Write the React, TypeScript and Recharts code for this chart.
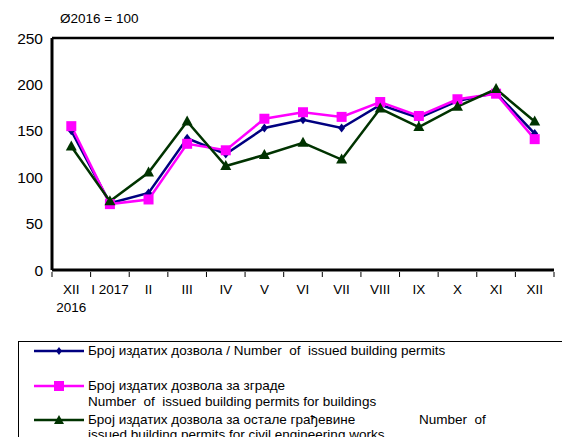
import { LineChart, Line, XAxis, YAxis, CartesianGrid, ReferenceLine } from "recharts";

// Month labels (XII 2016 .. XII 2017)
const months = ["XII\n2016", "I 2017", "II", "III", "IV", "V", "VI", "VII", "VIII", "IX", "X", "XI", "XII"];
// Ø2016 = 100 indices
const totalPermits = [150, 72, 83, 142, 125, 153, 162, 153, 178, 164, 182, 191, 147];
const buildingPermits = [155, 71, 76, 136, 129, 163, 170, 165, 181, 166, 184, 190, 141];
const civilPermits = [133, 74, 105, 160, 112, 124, 137, 119, 174, 154, 176, 195, 160];
const yTicks = [0, 50, 100, 150, 200, 250];

const data = months.map((m, i) => ({
  month: m,
  total: totalPermits[i],
  buildings: buildingPermits[i],
  civil: civilPermits[i],
}));

const BLUE = "#000080";
const PINK = "#ff00ff";
const GREEN = "#003300";
const FONT = "Arial, 'Liberation Sans', sans-serif";
const BAND = 502 / 13;

const Diamond = (p: any) => {
  const { cx, cy } = p;
  if (cx == null || cy == null) return null;
  return <path key={p.index} d={`M${cx},${cy - 4.5}L${cx + 3.5},${cy}L${cx},${cy + 4.5}L${cx - 3.5},${cy}Z`} fill={BLUE} />;
};
const Square = (p: any) => {
  const { cx, cy } = p;
  if (cx == null || cy == null) return null;
  return <rect key={p.index} x={cx - 5} y={cy - 5} width={10} height={10} fill={PINK} />;
};
const Triangle = (p: any) => {
  const { cx, cy } = p;
  if (cx == null || cy == null) return null;
  return <path key={p.index} d={`M${cx},${cy - 6}L${cx + 5.5},${cy + 4}L${cx - 5.5},${cy + 4}Z`} fill={GREEN} />;
};

const MonthTick = (p: any) => {
  const { x, y, payload, index } = p;
  const lines = String(payload.value).split("\n");
  const left = x - BAND / 2;
  return (
    <g>
      <line x1={left} y1={y} x2={left} y2={y + 5} stroke="#000" strokeWidth={1} />
      {index === months.length - 1 && (
        <line x1={x + BAND / 2} y1={y} x2={x + BAND / 2} y2={y + 5} stroke="#000" strokeWidth={1} />
      )}
      <text x={x} y={y + 22} textAnchor="middle" fontSize={13.5} fontFamily={FONT} fill="#000">
        {lines.map((l, i) => (
          <tspan key={i} x={x} dy={i === 0 ? 0 : 18}>{l}</tspan>
        ))}
      </text>
    </g>
  );
};

const Sample = ({ color, marker }: { color: string; marker: "d" | "s" | "t" }) => (
  <svg width={50} height={12} style={{ position: "absolute", left: 15, top: 2 }}>
    <line x1={0} y1={6} x2={50} y2={6} stroke={color} strokeWidth={2.5} />
    {marker === "d" && <path d="M25,2L28,6L25,10L22,6Z" fill={color} />}
    {marker === "s" && <rect x={20} y={1} width={10} height={10} fill={color} />}
    {marker === "t" && <path d="M25,1L30,10L20,10Z" fill={color} />}
  </svg>
);

export default function App() {
  return (
    <div style={{ position: "absolute", left: 0, top: 0, width: 562, height: 437, overflow: "hidden", background: "#fff", fontFamily: FONT }}>
      <div style={{ position: "absolute", left: 60, top: 11, fontSize: 13.5, color: "#000" }}>Ø2016 = 100</div>
      <LineChart width={562} height={437} data={data} margin={{ top: 38, right: 8, bottom: 107, left: 0 }}>
        <CartesianGrid horizontal vertical={false} stroke="#404040" strokeWidth={1} />
        <XAxis
          dataKey="month"
          interval={0}
          tick={<MonthTick />}
          tickLine={false}
          tickSize={0}
          padding={{ left: BAND / 2, right: BAND / 2 }}
          axisLine={{ stroke: "#000", strokeWidth: 3 }}
          height={60}
        />
        <YAxis
          yAxisId="left"
          domain={[0, 250]}
          ticks={yTicks}
          width={52}
          tickLine={false}
          tickMargin={3}
          axisLine={{ stroke: "#000", strokeWidth: 3 }}
          tick={{ fontSize: 15.5, fill: "#000", fontFamily: FONT }}
        />
        <YAxis
          yAxisId="right"
          orientation="right"
          domain={[0, 250]}
          width={0}
          tick={false}
          tickLine={false}
          axisLine={{ stroke: "#000", strokeWidth: 2.5 }}
        />
        <ReferenceLine yAxisId="left" y={250} stroke="#000" strokeWidth={2.5} />
        <Line yAxisId="left" type="linear" dataKey="total" stroke={BLUE} strokeWidth={2.5} dot={Diamond} isAnimationActive={false} />
        <Line yAxisId="left" type="linear" dataKey="buildings" stroke={PINK} strokeWidth={2.5} dot={Square} isAnimationActive={false} />
        <Line yAxisId="left" type="linear" dataKey="civil" stroke={GREEN} strokeWidth={2.5} dot={Triangle} isAnimationActive={false} />
      </LineChart>
      <div style={{ position: "absolute", left: 18, top: 341, width: 600, height: 120, border: "1px solid #000", fontSize: 13.5, color: "#000", lineHeight: "16px" }}>
        <div style={{ position: "absolute", left: 0, top: 1 }}>
          <Sample color={BLUE} marker="d" />
          <div style={{ position: "absolute", left: 69, top: 0, whiteSpace: "pre" }}>Број издатих дозвола / Number  of  issued building permits</div>
        </div>
        <div style={{ position: "absolute", left: 0, top: 36 }}>
          <Sample color={PINK} marker="s" />
          <div style={{ position: "absolute", left: 69, top: 0, whiteSpace: "pre" }}>
            Број издатих дозвола за зграде{"\n"}Number  of  issued building permits for buildings
          </div>
        </div>
        <div style={{ position: "absolute", left: 0, top: 70 }}>
          <Sample color={GREEN} marker="t" />
          <div style={{ position: "absolute", left: 69, top: 0, whiteSpace: "pre" }}>Број издатих дозвола за остале грађевине</div>
          <div style={{ position: "absolute", left: 400, top: 0, whiteSpace: "pre" }}>Number  of</div>
          <div style={{ position: "absolute", left: 69, top: 15, whiteSpace: "pre" }}>issued building permits for civil engineering works</div>
        </div>
      </div>
    </div>
  );
}
